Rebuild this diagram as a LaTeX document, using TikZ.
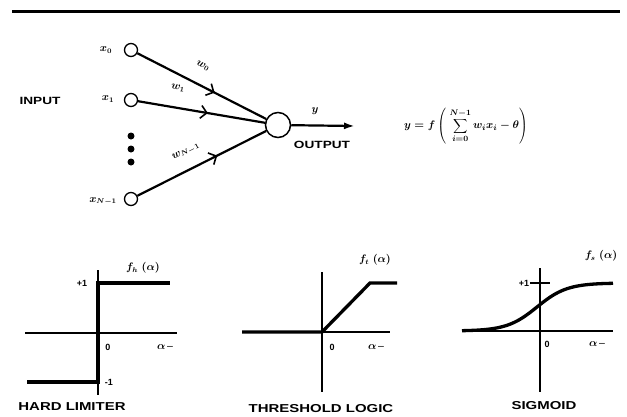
\documentclass[tikz,border=0pt]{standalone}
\usepackage{fontspec}
\setmainfont{Liberation Sans}
\usetikzlibrary{arrows.meta,decorations.markings}
\begin{document}
\begin{tikzpicture}[x=1pt,y=-1pt,
  inp/.style={circle,draw,line width=1.3pt,minimum size=13pt,inner sep=0pt},
  neuron/.style={circle,draw,line width=1.5pt,minimum size=25pt,inner sep=0pt},
  bigdot/.style={circle,fill,minimum size=7pt,inner sep=0pt},
  wire/.style={line width=2.2pt,postaction={decorate},
    decoration={markings,mark=at position #1 with {\arrow{Straight Barb[length=6pt,width=13pt,line width=1.6pt]}}}},
  small/.style={font=\fontsize{9}{11}\selectfont\bfseries,inner sep=1pt},
  mlab/.style={font=\fontsize{10.5}{12}\selectfont\boldmath,inner sep=0.5pt},
  caps/.style={font=\fontsize{10.5}{12}\selectfont\bfseries,xscale=1.3,inner sep=0pt},
  bigcaps/.style={font=\fontsize{11.5}{13}\selectfont\bfseries,xscale=1.3,inner sep=0pt},
  axis/.style={line width=1.2pt},
  curve/.style={line width=3.3pt}
]
\useasboundingbox (0,0) rectangle (627,416);
% top rule
\draw[line width=3pt] (12,11) -- (620,11);

% inputs
\node[inp] (in0) at (131,50) {};
\node[inp] (in1) at (131,100) {};
\node[inp] (inN) at (131,199) {};
\node[bigdot] (d1) at (131,136) {};
\node[bigdot] (d2) at (131,149) {};
\node[bigdot] (d3) at (131,162) {};
\node[mlab] (lx0) at (106,50) {$x_0$};
\node[mlab] (lx1) at (108,99) {$x_1$};
\node[mlab] (lxN) at (103,201) {$x_{N-1}$};
\node[caps] (linput) at (40,101) {INPUT};

% neuron
\node[neuron] (neuron) at (278,125) {};
\draw[wire=0.6] (in0) -- (neuron);
\draw[wire=0.55] (in1) -- (neuron);
\draw[wire=0.62] (inN) -- (neuron);
\node[mlab,rotate=-27] (lw0) at (203,66) {$w_0$};
\node[mlab,rotate=-10] (lw1) at (178,88) {$w_1$};
\node[mlab,rotate=27] (lwN) at (186,152) {$w_{N-1}$};

% output
\coordinate (outend) at (355,126);
\draw[line width=2.2pt,-{Latex[length=11pt,width=7pt]}] (neuron) -- (outend);
\node[mlab] (ly) at (315,111) {$y$};
\node[caps] (loutput) at (322,145) {OUTPUT};

% formula
\node[font=\fontsize{11}{13}\selectfont\boldmath] (formula) at (466,126)
  {$y = f\left(\;\displaystyle\sum_{i=0}^{N-1} w_i x_i - \theta\right)$};

% hard limiter
\draw[axis] (25,333) -- (177,333);
\draw[axis] (98,270) -- (98,395);
\draw[curve] (27,382) -- (98,382) -- (98,283) -- (170,283);
\node[small] (h1) at (82,283) {+1};
\node[small] (hm1) at (109,382) {-1};
\node[small] (h0) at (108,347) {0};
\node[mlab] (ha) at (165,347) {$\alpha$\,--};
\node[mlab] (hf) at (143,268) {$f_h\;(\alpha)$};
\node[bigcaps] (hl) at (72,407) {HARD LIMITER};

% threshold logic
\draw[axis] (242,332) -- (390,332);
\draw[axis] (322,272) -- (322,392);
\draw[curve] (242,332) -- (322,332) -- (370,283) -- (397,283);
\node[small] (t0) at (332,347) {0};
\node[mlab] (ta) at (376,347) {$\alpha$\,--};
\node[mlab] (tf) at (375,260) {$f_t\;(\alpha)$};
\node[bigcaps] (tl) at (321,409) {THRESHOLD LOGIC};

% sigmoid
\draw[axis] (462,331) -- (613,331);
\draw[axis] (540,268) -- (540,392);
\draw[axis] (530,283) -- (550,283);
\draw[curve] plot[domain=462:613,samples=80,smooth] (\x,{331-48/(1+exp(-(\x-537)/15))});
\node[small] (s1) at (524,283) {+1};
\node[small] (s0) at (547,344) {0};
\node[mlab] (sa) at (597,344) {$\alpha$\,--};
\node[mlab] (sf) at (601,256) {$f_s\;(\alpha)$};
\node[bigcaps] (sl) at (544,406) {SIGMOID};
\end{tikzpicture}
\end{document}
